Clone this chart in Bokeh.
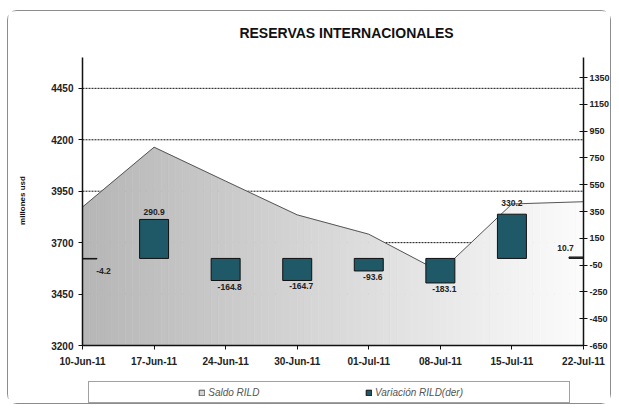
import math
from bokeh.plotting import figure
from bokeh.models import Range1d, LinearAxis, FixedTicker, Legend, LegendItem, ColumnDataSource, Label
from bokeh.embed import file_html
from bokeh.resources import INLINE
from bokeh.core.properties import value

# ---- data ----
dates = ["10-Jun-11", "17-Jun-11", "24-Jun-11", "30-Jun-11",
         "01-Jul-11", "08-Jul-11", "15-Jul-11", "22-Jul-11"]
saldo = [3873, 4164, 3999, 3835, 3741, 3558, 3888, 3899]
variacion = [-4.2, 290.9, -164.8, -164.7, -93.6, -183.1, 330.2, 10.7]
left_ticks = [3200, 3450, 3700, 3950, 4200, 4450]
right_ticks = [-650, -450, -250, -50, 150, 350, 550, 750, 950, 1150, 1350]

FONT = "Liberation Sans"
x = list(range(len(dates)))
y_start, y_end = 3200, 4600
v_start, v_end = -650, 1500

# ---- layout in pixels (canvas 604 x 394); the plot frame covers the whole canvas ----
W, H = 604, 394
PL, PR = 74, 29      # space left / right of the axes
PT, PB = 46, 60      # space above / below the axes
AX_W = W - PL - PR
AX_H = H - PT - PB
n = len(x) - 1
x_lo = x[0] - PL * n / AX_W
x_hi = x[-1] + PR * n / AX_W
y_lo = y_start - PB * (y_end - y_start) / AX_H
y_hi = y_end + PT * (y_end - y_start) / AX_H
v_lo = v_start - PB * (v_end - v_start) / AX_H
v_hi = v_end + PT * (v_end - v_start) / AX_H

p = figure(width=W, height=H, output_backend="svg", toolbar_location=None, title=None,
           x_range=Range1d(x_lo, x_hi), y_range=Range1d(y_lo, y_hi),
           min_border=0, background_fill_color="white", border_fill_color="white")
p.styles = {"border": "1px solid #8c8c8c", "border-radius": "10px",
            "margin-left": "7px", "margin-top": "10px"}
p.outline_line_color = None
p.extra_y_ranges = {"var": Range1d(v_lo, v_hi)}
p.xgrid.visible = False
p.ygrid.visible = False

# title and axis title
p.add_layout(Label(x=338, y=H - 21, x_units="screen", y_units="screen",
                   text="RESERVAS INTERNACIONALES", text_align="center", text_baseline="middle",
                   text_font=FONT, text_font_size="14px", text_font_style="bold",
                   text_color="#111111"))
p.add_layout(Label(x=14, y=H - 189, x_units="screen", y_units="screen", angle=math.pi / 2,
                   text="millones usd", text_align="center", text_baseline="middle",
                   text_font=FONT, text_font_size="8px", text_font_style="bold",
                   text_color="#111111"))

# dashed grid lines between the two value axes
p.segment(x0=[x[0]] * len(left_ticks), x1=[x[-1]] * len(left_ticks), y0=left_ticks, y1=left_ticks,
          line_color="#111111", line_dash="2 1", line_width=1)

# ---- gradient area (Saldo RILD) ----
def lerp_col(t):
    a, b = 0xb6, 0xfb
    c = int(round(a + (b - a) * t))
    return "#%02x%02x%02x" % (c, c, c)

xs, ys, cols = [], [], []
k = 10
for i in range(n):
    for j in range(k):
        f0, f1 = j / k, (j + 1) / k
        xa = x[i] + f0
        xb = x[i] + f1
        ya = saldo[i] + (saldo[i + 1] - saldo[i]) * f0
        yb = saldo[i] + (saldo[i + 1] - saldo[i]) * f1
        xs.append([xa, xb, xb, xa])
        ys.append([y_start, y_start, yb, ya])
        cols.append(lerp_col((xa + xb) / 2 / n))
p.patches(xs, ys, fill_color=cols, line_color=cols, line_width=0.6)
p.line(x, saldo, line_color="#555555", line_width=1)
saldo_key = p.patch(x + [x[-1], x[0]], saldo + [y_start, y_start],
                    fill_color="#d4d4d4", line_color="#555555", visible=False)

# ---- bars (Variación RILD), cut at the two value axes ----
bw = 0.405
bar_src = ColumnDataSource(dict(
    left=[max(xi - bw / 2, x[0]) for xi in x],
    right=[min(xi + bw / 2, x[-1]) for xi in x],
    top=variacion, bottom=[0] * len(x)))
bars = p.quad(left="left", right="right", top="top", bottom="bottom", source=bar_src,
              y_range_name="var", fill_color="#1f5866", line_color="#111111", line_width=1)

# bar labels
lab = [f"{v:.1f}" for v in variacion]
xo, yo, base = [], [], []
for i, v in enumerate(variacion):
    if v >= 0:
        base.append("bottom"); yo.append(-4); xo.append(0)
    else:
        base.append("top"); yo.append(3); xo.append(4)
xo[0], yo[0] = 21, 9
xo[-1], yo[-1] = -18, -6
yo[6] = -8
lab_src = ColumnDataSource(dict(x=x, y=variacion, t=lab, xo=xo, yo=yo, b=base))
p.text(x="x", y="y", text="t", x_offset="xo", y_offset="yo", text_baseline="b", source=lab_src,
       y_range_name="var", text_align="center", text_font=value(FONT), text_font_size="8.5px",
       text_font_style="bold", text_color="#222222")

# ---- axes ----
def style_axis(ax, size="10px"):
    ax.axis_line_color = "#111111"
    ax.axis_line_width = 1.5
    ax.major_tick_line_color = "#111111"
    ax.minor_tick_line_color = None
    ax.major_label_text_font = FONT
    ax.major_label_text_font_size = size
    ax.major_label_text_font_style = "bold"
    ax.major_label_text_color = "#222222"

ya = p.yaxis[0]
ya.fixed_location = x[0]
ya.ticker = FixedTicker(ticks=left_ticks)
ya.bounds = (y_start, y_end)
style_axis(ya)
ya.major_tick_in = 0
ya.major_tick_out = 4
ya.major_label_standoff = 5

ry = LinearAxis(y_range_name="var", ticker=FixedTicker(ticks=right_ticks), bounds=(v_start, v_end),
                fixed_location=x[-1])
ry.major_label_overrides = {t: str(t) for t in right_ticks}
style_axis(ry, "9px")
ry.major_tick_in = 4
ry.major_tick_out = 4
ry.major_label_standoff = 2
p.add_layout(ry, "right")

xa_ = p.xaxis[0]
xa_.fixed_location = y_start
xa_.bounds = (x[0], x[-1])
xa_.ticker = FixedTicker(ticks=x)
xa_.major_label_overrides = {i: d for i, d in enumerate(dates)}
style_axis(xa_)
xa_.major_tick_in = 0
xa_.major_tick_out = 4
xa_.major_label_standoff = 6

# ---- legend (boxed, under the axis) ----
blank = p.quad(left=[], right=[], top=[], bottom=[], fill_alpha=0, line_alpha=0)

NB = "\u00a0"
leg = Legend(items=[LegendItem(label=NB * 35, renderers=[blank]),
                    LegendItem(label="Saldo RILD" + NB * 38, renderers=[saldo_key]),
                    LegendItem(label="Variación RILD(der)", renderers=[bars]),
                    LegendItem(label=NB * 34, renderers=[blank])],
             location=(80, 2), orientation="horizontal", padding=2, margin=0,
             glyph_width=7, glyph_height=7, label_standoff=3, label_width=0, label_height=16,
             spacing=0, border_line_color="#444444", border_line_width=1,
             background_fill_color="white", background_fill_alpha=1,
             inactive_fill_alpha=0,
             label_text_font=FONT, label_text_font_size="10px", label_text_font_style="italic",
             label_text_color="#555555")
p.add_layout(leg)

open("out.html", "w").write(file_html(p, INLINE))
